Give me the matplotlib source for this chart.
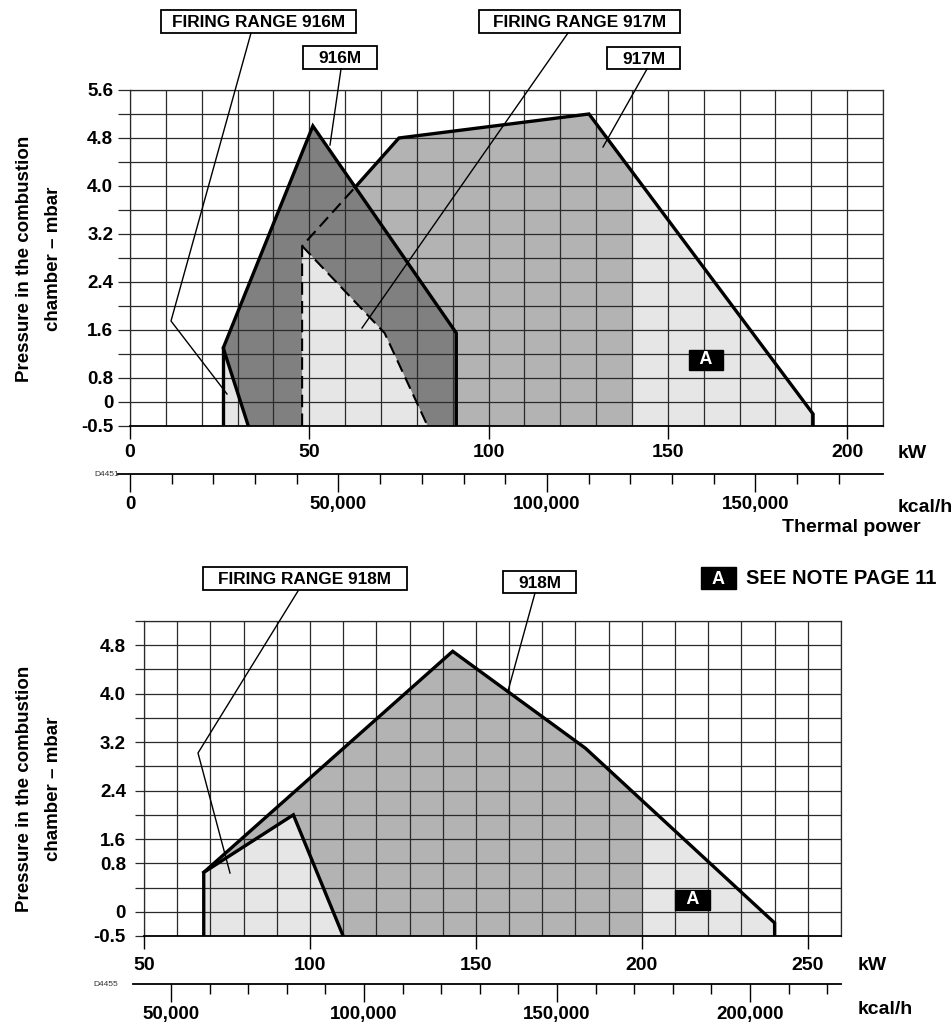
import numpy as np
import matplotlib
matplotlib.use("Agg")
import matplotlib.pyplot as plt
from matplotlib.patches import Polygon, Rectangle
from matplotlib.lines import Line2D

W, H = 952, 1024
plt.rcParams['font.family'] = ['Liberation Sans', 'DejaVu Sans']
plt.rcParams['font.weight'] = 'bold'

KCAL_PER_KW = 860

# --- top chart: 916M / 917M (kW, mbar) ---
b916_kw = [33, 26, 51, 91, 91]
b916_mbar = [-0.5, 1.3, 5.0, 1.55, -0.5]
fr916_kw = [26, 26, 33]
fr916_mbar = [-0.5, 1.3, -0.5]
b917_kw = [48, 48, 75, 128, 190.5, 190.5]
b917_mbar = [-0.5, 3.0, 4.8, 5.2, -0.25, -0.5]
cross917 = (62.8, 3.98)          # where the 917M edge leaves the 916M area
fr917_kw = [48, 48, 71, 83]
fr917_mbar = [-0.5, 3.0, 1.55, -0.5]
zoneA_917 = 140                  # kW, beyond this: note A

# --- bottom chart: 918M ---
b918_kw = [68, 68, 143, 183, 240, 240]
b918_mbar = [-0.5, 0.65, 4.7, 3.1, -0.23, -0.5]
fr918_kw = [68, 68, 95, 110]
fr918_mbar = [-0.5, 0.65, 2.0, -0.5]
zoneA_918 = 200

# pressure axes are not linear: knots (mbar -> grid row)
top_knots_p = [-0.5, 0, 0.8, 5.6]
top_knots_row = [0, 1, 2, 14]
bot_knots_p = [-0.5, 0, 0.8, 1.6, 4.8, 5.2]
bot_knots_row = [0, 1, 3, 4, 12, 13]

top_grid = [-0.5, 0] + [round(v, 1) for v in np.arange(0.8, 5.61, 0.4)]
top_lab = ['-0.5', '0'] + [f'{v:.1f}' if i % 2 == 0 else ''
                           for i, v in enumerate(top_grid[2:])]
bot_grid = [-0.5, 0, 0.4, 0.8] + [round(v, 1) for v in np.arange(1.6, 5.21, 0.4)]
bot_lab = ['-0.5', '0', '', '0.8'] + [f'{v:.1f}' if i % 2 == 0 else ''
                                      for i, v in enumerate(bot_grid[4:])]

LIGHT, MID, DARK = '#e6e6e6', '#b3b3b3', '#808080'
GRID = '#2a2a2a'


def piecewise(xk, yk):
    xk = np.asarray(xk, float)
    yk = np.asarray(yk, float)

    def f(v):
        v = np.asarray(v, float)
        out = np.interp(v, xk, yk)
        lo = yk[0] + (v - xk[0]) * (yk[1] - yk[0]) / (xk[1] - xk[0])
        hi = yk[-1] + (v - xk[-1]) * (yk[-1] - yk[-2]) / (xk[-1] - xk[-2])
        out = np.where(v < xk[0], lo, out)
        return np.where(v > xk[-1], hi, out)
    return f


def fx(x):
    return x / W


def fy(y):
    return 1 - y / H


def setup(ax, knots_p, knots_row, xlim, ylim, grid, labels, xmaj,
          ytick_len, ypad, xpad):
    fwd = piecewise(knots_p, knots_row)
    inv = piecewise(knots_row, knots_p)
    ax.set_yscale('function', functions=(fwd, inv))
    ax.set_xlim(*xlim)
    ax.set_ylim(*ylim)
    ax.set_yticks(grid, labels)
    ax.set_xticks(xmaj, [str(v) for v in xmaj])
    ax.set_xticks(np.arange(xlim[0], xlim[1] + 1, 10), minor=True)
    ax.yaxis.set_minor_locator(matplotlib.ticker.NullLocator())
    ax.tick_params(axis='y', length=ytick_len, width=0.9, color=GRID,
                   pad=ypad, labelsize=13.5)
    ax.tick_params(axis='x', which='major', length=9, width=1,
                   pad=xpad, labelsize=14)
    ax.tick_params(axis='x', which='minor', length=0)
    ax.set_axisbelow('line')
    ax.grid(True, which='both', color=GRID, lw=0.9)
    for s in ax.spines.values():
        s.set_color(GRID)
        s.set_linewidth(0.9)
    ax.spines['bottom'].set_color('black')
    ax.spines['bottom'].set_linewidth(1.3)


def zone_fill(ax, kw, mbar, split, ylim):
    ax.add_patch(Polygon(list(zip(kw, mbar)), fc=LIGHT, ec='none', zorder=1))
    clip = Rectangle((kw[0] - 1, ylim[0]), split - kw[0] + 1, ylim[1] - ylim[0] + 1,
                     transform=ax.transData)
    p = Polygon(list(zip(kw, mbar)), fc=MID, ec='none', zorder=1)
    ax.add_patch(p)
    p.set_clip_path(clip)


def kcal_axis(ax, loc, ticks_major, ticks_minor, labels, left_ext):
    sec = ax.secondary_xaxis(loc, functions=(lambda k: k * KCAL_PER_KW,
                                             lambda c: c / KCAL_PER_KW))
    sec.set_xticks(ticks_major, labels)
    sec.set_xticks(ticks_minor, minor=True)
    sec.tick_params(which='major', length=13, width=1, pad=3, labelsize=13.5)
    sec.tick_params(which='minor', length=7, width=1)
    sec.spines['bottom'].set_linewidth(1.3)
    lo, hi = ax.get_xlim()
    sec.spines['bottom'].set_bounds((lo - left_ext) * KCAL_PER_KW, hi * KCAL_PER_KW)
    return sec


def label_box(l, t, r, b, text, size=12.4):
    fig.add_artist(Rectangle((fx(l), fy(b)), (r - l) / W, (b - t) / H,
                             transform=fig.transFigure, fc='white',
                             ec='black', lw=1.3))
    fig.text(fx((l + r) / 2), fy((t + b) / 2 + 1), text, ha='center',
             va='center', fontsize=size)


def leader(xs, ys):
    fig.add_artist(Line2D([fx(x) for x in xs], [fy(y) for y in ys],
                          transform=fig.transFigure, color='black', lw=1.0))


def a_mark(ax, x, y):
    ax.text(x, y, '  A  ', ha='center', va='center', color='white',
            fontsize=13, zorder=6,
            bbox=dict(boxstyle='square,pad=0.08', fc='black', ec='black'))


fig = plt.figure(figsize=(W / 100, H / 100), dpi=100)

# ================= top chart =================
ax1 = fig.add_axes([fx(130), fy(426), (883 - 130) / W, (426 - 90) / H])
setup(ax1, top_knots_p, top_knots_row, (0, 210), (-0.5, 5.6),
      top_grid, top_lab, [0, 50, 100, 150, 200], 8.6, 3.5, 4)

zone_fill(ax1, b917_kw, b917_mbar, zoneA_917, (-0.5, 5.6))
ax1.add_patch(Polygon(list(zip(b916_kw, b916_mbar)), fc=DARK, ec='none', zorder=1.1))
ax1.add_patch(Polygon(list(zip(fr916_kw, fr916_mbar)), fc=LIGHT, ec='none', zorder=1.2))
ax1.add_patch(Polygon(list(zip(fr917_kw, fr917_mbar)), fc=LIGHT, ec='none', zorder=1.2))

thick = dict(color='black', lw=2.4, zorder=4, solid_joinstyle='miter')
dash = dict(color='black', lw=1.5, zorder=4, ls=(0, (6, 3)))
ax1.plot(b916_kw, b916_mbar, **thick)
ax1.plot(fr916_kw[:2], fr916_mbar[:2], **thick)
ax1.plot(b917_kw[:2] + [cross917[0]], b917_mbar[:2] + [cross917[1]], **dash)
ax1.plot([cross917[0]] + b917_kw[2:], [cross917[1]] + b917_mbar[2:], **thick)
ax1.plot(fr917_kw[1:], fr917_mbar[1:], **dash)
a_mark(ax1, 160.6, 1.1)

kcal_axis(ax1, -(474 - 426) / 336, [0, 50000, 100000, 150000],
          np.arange(0, 170001, 10000), ['0', '50,000', '100,000', '150,000'], 3.3)

# ================= bottom chart =================
ax2 = fig.add_axes([fx(144), fy(936), (841 - 144) / W, (936 - 621) / H])
setup(ax2, bot_knots_p, bot_knots_row, (50, 260), (-0.5, 5.2),
      bot_grid, bot_lab, [50, 100, 150, 200, 250], 6.5, 6.5, 6)

zone_fill(ax2, b918_kw, b918_mbar, zoneA_918, (-0.5, 5.2))
ax2.add_patch(Polygon(list(zip(fr918_kw, fr918_mbar)), fc=LIGHT, ec='none', zorder=1.2))
ax2.plot(b918_kw, b918_mbar, **thick)
ax2.plot(fr918_kw[1:], fr918_mbar[1:], **thick)
a_mark(ax2, 215.3, 0.2)

kcal_axis(ax2, -(984 - 936) / 315, [50000, 100000, 150000, 200000],
          np.arange(50000, 220001, 10000), ['50,000', '100,000', '150,000', '200,000'], 3.3)

# ================= texts / callouts =================
ylab = 'Pressure in the combustion\nchamber \u2013 mbar'
fig.text(fx(39), fy(259), ylab, rotation=90, ha='center', va='center',
         fontsize=13.5, linespacing=1.9, multialignment='center')
fig.text(fx(39), fy(789), ylab, rotation=90, ha='center', va='center',
         fontsize=13.5, linespacing=1.9, multialignment='center')

fig.text(fx(898), fy(453), 'kW', va='center', fontsize=14)
fig.text(fx(898), fy(507), 'kcal/h', va='center', fontsize=14)
fig.text(fx(851), fy(527), 'Thermal power', ha='center', va='center', fontsize=14)
fig.text(fx(858), fy(965), 'kW', va='center', fontsize=14)
fig.text(fx(858), fy(1010), 'kcal/h', va='center', fontsize=14)
fig.text(fx(107), fy(474), 'D4451', ha='center', va='center', fontsize=6,
         fontweight='normal', color='#333333')
fig.text(fx(106), fy(984), 'D4455', ha='center', va='center', fontsize=6,
         fontweight='normal', color='#333333')

label_box(161, 10, 356, 33, 'FIRING RANGE 916M')
label_box(303, 46, 377, 69, '916M')
label_box(479, 10, 680, 33, 'FIRING RANGE 917M')
label_box(607, 47, 680, 69, '917M')
label_box(203, 567, 407, 590, 'FIRING RANGE 918M')
label_box(503, 571, 576, 593, '918M')
leader([251, 171, 227], [33, 321, 394])
leader([341, 330], [69, 145])
leader([568, 362], [33, 328])
leader([647, 603], [69, 147])
leader([298, 198, 230], [591, 753, 873])
leader([535, 508], [593, 691])

fig.add_artist(Rectangle((fx(701), fy(589)), 35 / W, 22 / H,
                         transform=fig.transFigure, fc='black', ec='black'))
fig.text(fx(718.5), fy(579), 'A', ha='center', va='center', color='white', fontsize=13)
fig.text(fx(746), fy(579), 'SEE NOTE PAGE 11', va='center', fontsize=14.5)

fig.savefig('out.png', dpi=100)
